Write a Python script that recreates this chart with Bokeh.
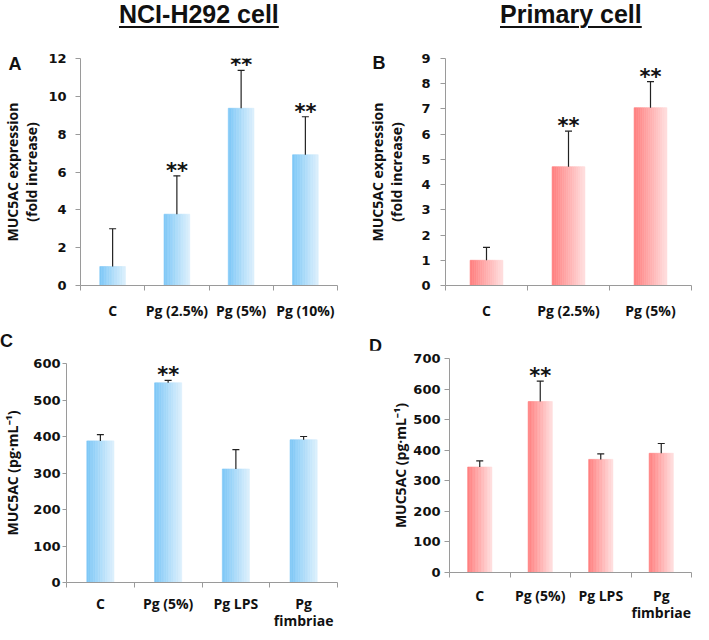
from bokeh.plotting import figure
from bokeh.models import FixedTicker, Whisker, TeeHead, ColumnDataSource, Div, Range1d
from bokeh.layouts import column, row
from bokeh.embed import file_html
from bokeh.resources import INLINE
from bokeh.core.properties import value

# ---------------- data ----------------
a_cats = ["C", "Pg (2.5%)", "Pg (5%)", "Pg (10%)"]
a_vals = [1.0, 3.77, 9.37, 6.91]
a_upper = [3.0, 5.80, 11.37, 8.92]
a_sig = ["", "**", "**", "**"]

b_cats = ["C", "Pg (2.5%)", "Pg (5%)"]
b_vals = [1.0, 4.71, 7.05]
b_upper = [1.51, 6.12, 8.08]
b_sig = ["", "**", "**"]

c_cats = ["C", "Pg (5%)", "Pg LPS", "Pg\nfimbriae"]
c_vals = [388, 547, 311, 391]
c_upper = [405, 554, 364, 400]
c_sig = ["", "**", "", ""]

d_cats = ["C", "Pg (5%)", "Pg LPS", "Pg\nfimbriae"]
d_vals = [345, 559, 370, 390]
d_upper = [365, 626, 388, 422]
d_sig = ["", "**", "", ""]

BLUE = ((127, 200, 247), (218, 239, 252))
PINK = ((255, 128, 128), (255, 220, 220))

AXIS_GRAY = "#9a9a9a"
TXT = "#111111"
LBL_FONT = "Open Sans"


def mix(c0, c1, t):
    return "#%02x%02x%02x" % tuple(int(round(a + (b - a) * t)) for a, b in zip(c0, c1))


def make_panel(cats, vals, upper, sig, y_max, y_step, ylabel, letter, grad,
               width, height, bl, br, bt, bb, l_off, l_sd,
               ytick_out, ytick_sd, ylab_sd, xtick_sd, xlh):
    n = len(cats)
    centers = list(range(1, n + 1))
    p = figure(width=width, height=height, x_range=Range1d(0.5, n + 0.5),
               y_range=Range1d(0, y_max), output_backend="svg", toolbar_location=None,
               min_border_left=bl, min_border_right=br, min_border_top=bt,
               min_border_bottom=bb)
    try:
        p.frame_align = False
    except Exception:
        pass
    p.margin = 0
    p.outline_line_color = None
    p.grid.visible = False
    p.background_fill_color = "white"

    if letter:
        # panel letter as the figure title, pulled to the top-left corner
        p.title.text = letter
        p.title.align = "left"
        p.title.offset = l_off
        p.title.standoff = l_sd
        p.title.text_font = "Liberation Sans"
        p.title.text_font_style = "bold"
        p.title.text_font_size = "18px"
        p.title.text_color = TXT

    # gradient bars built from thin strips
    N = 16
    bw = 0.4
    L, R, T, C = [], [], [], []
    for c, v in zip(centers, vals):
        for k in range(N):
            L.append(c - bw / 2 + bw * k / N)
            R.append(c - bw / 2 + bw * (k + 1) / N)
            T.append(v)
            C.append(mix(grad[0], grad[1], k / (N - 1)))
    p.quad(left=L, right=R, bottom=0, top=T, fill_color=C, line_color=C, line_width=0.6)

    src = ColumnDataSource(dict(x=centers, lo=vals, hi=upper, sig=sig))
    w = Whisker(base="x", lower="lo", upper="hi", source=src, dimension="height",
                line_color="#222222", line_width=1.2, lower_head=None,
                upper_head=TeeHead(size=7, line_color="#222222", line_width=1.2),
                level="overlay")
    p.add_layout(w)
    p.text(x="x", y="hi", text="sig", source=src, text_align="center",
           text_baseline="alphabetic", y_offset=-5, text_font=value("DejaVu Sans"),
           text_font_style="bold", text_font_size="21px", text_color=TXT)

    xa = p.xaxis[0]
    xa.ticker = FixedTicker(ticks=centers, minor_ticks=[i + 0.5 for i in range(n + 1)])
    xa.major_label_overrides = {c: cat for c, cat in zip(centers, cats)}
    xa.major_tick_line_color = None
    xa.major_tick_out = 0
    xa.major_tick_in = 0
    xa.minor_tick_out = 5
    xa.minor_tick_in = 0
    xa.minor_tick_line_color = AXIS_GRAY
    xa.axis_line_color = AXIS_GRAY
    xa.major_label_standoff = xtick_sd
    xa.major_label_text_font = LBL_FONT
    xa.major_label_text_font_style = "bold"
    xa.major_label_text_font_size = "14px"
    xa.major_label_text_line_height = xlh
    xa.major_label_text_color = TXT

    ya = p.yaxis[0]
    ya.ticker = FixedTicker(ticks=list(range(0, y_max + 1, y_step)), minor_ticks=[])
    ya.major_tick_out = ytick_out
    ya.major_tick_in = 0
    ya.major_tick_line_color = AXIS_GRAY
    ya.minor_tick_line_color = None
    ya.axis_line_color = AXIS_GRAY
    ya.major_label_standoff = ytick_sd
    ya.major_label_text_font = "DejaVu Sans"
    ya.major_label_text_font_style = "bold"
    ya.major_label_text_font_size = "13px"
    ya.major_label_text_color = TXT
    ya.axis_label = ylabel
    ya.axis_label_standoff = ylab_sd
    ya.axis_label_text_font = LBL_FONT
    ya.axis_label_text_font_style = "bold"
    ya.axis_label_text_font_size = "14px"
    ya.axis_label_text_line_height = 1.0
    ya.axis_label_text_color = TXT
    return p


pA = make_panel(a_cats, a_vals, a_upper, a_sig, 12, 2,
                "MUC5AC expression\n(fold increase)", "A", BLUE,
                342, 286, 70, 5, 22, 30, -72, -31, 5, 9, 4, 10, 1.0)
pB = make_panel(b_cats, b_vals, b_upper, b_sig, 9, 1,
                "MUC5AC expression\n(fold increase)", "B", PINK,
                351, 286, 103, 2, 22, 30, -73, -28, 5, 10, 12, 10, 1.0)
pC = make_panel(c_cats, c_vals, c_upper, c_sig, 600, 100,
                "MUC5AC (pg\u00b7mL\u207b\u00b9)", None, BLUE,
                342, 282, 62, 5, 13, 48, 0, 0, 4, 2, 8, 6, 0.9)
pD = make_panel(d_cats, d_vals, d_upper, d_sig, 700, 100,
                "MUC5AC (pg\u00b7mL\u207b\u00b9)", None, PINK,
                351, 282, 107, 2, 8, 60, 0, 0, 5, 4, 0, 8, 0.9)

TSTYLE = ("box-sizing:border-box;height:36px;overflow:visible;"
          "font-family:'Liberation Sans';font-weight:bold;font-size:25px;line-height:28px;"
          "text-decoration:underline;text-decoration-thickness:2px;text-underline-offset:3px;"
          "color:#111;white-space:nowrap;")
tA = Div(text=f'<div style="{TSTYLE}padding-left:119px;">NCI-H292 cell</div>',
         width=342, height=36, margin=0)
tB = Div(text=f'<div style="{TSTYLE}padding-left:158px;">Primary cell</div>',
         width=351, height=36, margin=0)

LSTYLE = ("box-sizing:border-box;height:28px;overflow:visible;"
          "font-family:'Liberation Sans';font-weight:bold;font-size:18px;line-height:18px;"
          "color:#111;white-space:nowrap;")
lC = Div(text=f'<div style="{LSTYLE}padding-left:0px;padding-top:10px;">C</div>',
         width=342, height=28, margin=0)
lD = Div(text=f'<div style="{LSTYLE}padding-left:27px;padding-top:15px;">D</div>',
         width=351, height=28, margin=0)

layout = column(row(tA, tB), row(pA, pB), row(lC, lD), row(pC, pD))

open("out.html", "w").write(file_html(layout, INLINE))
